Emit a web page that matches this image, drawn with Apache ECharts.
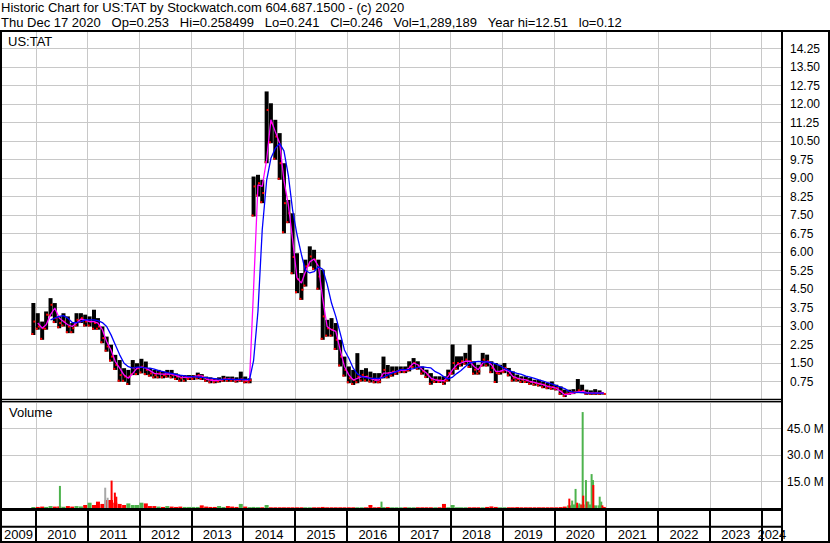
<!DOCTYPE html>
<html><head><meta charset="utf-8">
<script src="https://cdn.jsdelivr.net/npm/echarts@6/dist/echarts.min.js"></script>
<style>html,body{margin:0;padding:0;background:#fff}#c{width:830px;height:543px}</style>
</head><body><div id="c"></div>
<script>
// ---- data (monthly bars) ----
const months = [
'2009-12',
'2010-01','2010-02','2010-03','2010-04','2010-05','2010-06','2010-07','2010-08','2010-09','2010-10','2010-11','2010-12',
'2011-01','2011-02','2011-03','2011-04','2011-05','2011-06','2011-07','2011-08','2011-09','2011-10','2011-11','2011-12',
'2012-01','2012-02','2012-03','2012-04','2012-05','2012-06','2012-07','2012-08','2012-09','2012-10','2012-11','2012-12',
'2013-01','2013-02','2013-03','2013-04','2013-05','2013-06','2013-07','2013-08','2013-09','2013-10','2013-11','2013-12',
'2014-01','2014-02','2014-03','2014-04','2014-05','2014-06','2014-07','2014-08','2014-09','2014-10','2014-11','2014-12',
'2015-01','2015-02','2015-03','2015-04','2015-05','2015-06','2015-07','2015-08','2015-09','2015-10','2015-11','2015-12',
'2016-01','2016-02','2016-03','2016-04','2016-05','2016-06','2016-07','2016-08','2016-09','2016-10','2016-11','2016-12',
'2017-01','2017-02','2017-03','2017-04','2017-05','2017-06','2017-07','2017-08','2017-09','2017-10','2017-11','2017-12',
'2018-01','2018-02','2018-03','2018-04','2018-05','2018-06','2018-07','2018-08','2018-09','2018-10','2018-11','2018-12',
'2019-01','2019-02','2019-03','2019-04','2019-05','2019-06','2019-07','2019-08','2019-09','2019-10','2019-11','2019-12',
'2020-01','2020-02','2020-03','2020-04','2020-05','2020-06','2020-07','2020-08','2020-09','2020-10','2020-11','2020-12'];

const priceHigh = [3.93,
 3.52,3.18,3.59,4.13,3.93,3.39,3.52,3.39,3.12,3.52,3.52,3.46,
 3.39,3.66,3.32,2.98,2.57,2.24,1.83,1.62,1.29,1.22,1.62,1.49,
 1.67,1.56,1.29,1.22,1.22,1.15,1.22,1.22,1.08,1.01,1.01,1.01,
 1.01,1.11,1.05,0.95,0.92,0.88,0.92,0.98,0.95,0.95,0.92,1.15,
 0.95,0.88,9.06,9.13,8.93,12.51,12.03,11.36,10.82,9.60,8.11,7.57,
 5.95,5.15,5.69,6.23,6.09,5.69,5.28,3.25,3.32,3.12,2.44,1.76,
 1.36,1.22,1.90,1.22,1.29,1.15,1.09,1.09,1.76,1.42,1.36,1.36,
 1.36,1.36,1.57,1.70,1.57,1.36,1.23,1.09,0.96,0.96,0.96,1.23,
 2.25,1.77,1.77,1.91,2.25,1.57,1.43,1.91,1.84,1.57,1.50,1.43,
 1.50,1.30,1.16,1.03,0.96,0.96,0.89,0.82,0.82,0.75,0.69,0.75,
 0.62,0.55,0.42,0.42,0.44,0.85,0.62,0.42,0.39,0.44,0.39,0.26];

const priceLow = [2.64,
 2.85,2.44,2.85,3.39,3.12,2.91,2.98,2.71,2.71,2.98,3.12,2.98,
 2.98,2.85,2.85,2.30,1.96,1.56,1.22,0.74,0.74,0.61,1.01,1.01,
 1.08,1.01,0.95,0.88,0.88,0.88,0.91,0.88,0.81,0.74,0.74,0.81,
 0.81,0.84,0.81,0.74,0.68,0.68,0.71,0.74,0.74,0.74,0.71,0.74,
 0.68,0.68,7.44,8.25,7.98,9.60,10.41,9.74,8.93,6.76,7.17,5.10,
 4.33,4.06,4.60,5.42,5.28,4.47,2.44,2.57,2.57,2.03,1.36,0.95,
 0.68,0.61,0.68,0.75,0.75,0.71,0.68,0.68,0.88,0.88,0.95,1.02,
 1.09,1.09,1.16,1.30,1.23,1.03,0.89,0.62,0.69,0.69,0.62,0.75,
 1.03,1.23,1.36,1.43,1.30,1.03,1.03,1.36,1.36,1.09,0.69,1.03,
 1.09,0.96,0.75,0.75,0.69,0.69,0.62,0.58,0.55,0.48,0.44,0.42,
 0.39,0.21,0.12,0.21,0.24,0.28,0.28,0.21,0.21,0.21,0.21,0.24];

const priceClose = [3.18,
 2.98,2.91,3.46,3.86,3.32,3.12,3.18,2.98,2.91,3.25,3.32,3.18,
 3.18,3.12,2.98,2.51,2.17,1.76,1.42,1.01,0.95,0.95,1.29,1.29,
 1.35,1.22,1.08,1.01,1.08,1.01,1.06,1.01,0.95,0.88,0.92,0.92,
 0.95,1.01,0.95,0.84,0.81,0.79,0.81,0.87,0.85,0.84,0.81,0.84,
 0.76,0.80,8.66,8.79,8.39,11.76,11.22,10.68,9.60,7.98,7.57,5.80,
 4.90,4.47,5.42,5.82,5.69,5.01,3.39,2.91,2.85,2.44,1.76,1.22,
 0.88,0.81,0.95,1.02,0.95,0.88,0.81,0.75,1.22,1.09,1.15,1.16,
 1.23,1.20,1.36,1.50,1.36,1.16,1.03,0.82,0.82,0.80,0.75,1.09,
 1.50,1.50,1.57,1.64,1.57,1.23,1.16,1.64,1.57,1.30,1.09,1.16,
 1.30,1.09,0.89,0.85,0.82,0.79,0.73,0.69,0.66,0.62,0.55,0.52,
 0.48,0.35,0.25,0.31,0.32,0.39,0.37,0.28,0.28,0.28,0.28,0.246];

// magenta (short) moving average
const maShort = [null,
 3.12,2.91,3.05,3.46,3.73,3.32,3.18,3.05,2.98,3.12,3.28,3.25,
 3.18,3.18,3.12,2.85,2.37,2.03,1.56,1.29,1.01,0.88,1.08,1.29,
 1.33,1.29,1.19,1.08,1.06,1.05,1.06,1.05,1.00,0.93,0.92,0.93,
 0.95,0.98,0.98,0.85,0.81,0.79,0.81,0.84,0.85,0.84,0.82,0.84,
 0.81,0.82,4.50,8.72,8.66,9.74,11.36,10.88,10.41,8.90,7.90,6.50,
 4.95,4.74,5.20,5.60,5.72,5.42,4.10,2.98,2.85,2.78,2.03,1.36,
 1.02,0.81,0.88,0.95,0.95,0.88,0.81,0.81,1.09,1.09,1.12,1.15,
 1.20,1.20,1.30,1.50,1.43,1.23,1.09,0.89,0.82,0.79,0.78,0.96,
 1.23,1.43,1.50,1.57,1.57,1.36,1.23,1.50,1.57,1.43,1.16,1.16,
 1.23,1.16,0.96,0.89,0.85,0.82,0.75,0.71,0.66,0.62,0.55,0.52,
 0.48,0.35,0.21,0.25,0.28,0.33,0.35,0.31,0.28,0.28,0.28,0.28];

// blue (long) moving average
const maLong = [null,
 null,null,null,3.25,3.32,3.39,3.42,3.32,3.14,3.14,3.18,3.25,
 3.25,3.25,3.22,3.14,2.98,2.64,2.24,1.83,1.49,1.35,1.29,1.33,
 1.33,1.30,1.29,1.25,1.19,1.15,1.11,1.08,1.04,1.01,0.98,0.95,
 0.95,0.93,0.92,0.91,0.89,0.87,0.85,0.84,0.84,0.84,0.84,0.84,
 0.84,0.84,1.60,3.60,6.90,8.90,9.80,10.20,10.40,10.10,9.10,7.70,
 6.70,5.90,5.25,5.15,5.20,5.40,5.30,4.70,3.93,3.39,2.71,2.03,
 1.69,1.29,1.06,0.95,0.91,0.88,0.88,0.88,0.92,1.02,1.09,1.15,
 1.23,1.23,1.24,1.27,1.32,1.34,1.32,1.30,1.15,1.07,0.94,0.86,
 0.93,1.08,1.20,1.36,1.50,1.54,1.57,1.55,1.54,1.52,1.46,1.39,
 1.28,1.20,1.13,1.08,1.04,0.97,0.93,0.88,0.82,0.77,0.70,0.65,
 0.58,0.52,0.46,0.35,0.32,0.31,0.30,0.28,0.28,0.28,0.28,0.28];

// volume, millions (typical daily bar height in each month)
const volumeM = [0.6,
 0.6,0.8,0.6,1.1,0.8,0.9,0.7,1.1,0.8,1.1,0.9,1.7,
 3.0,1.7,3.6,2.3,4.5,4.5,3.0,2.3,1.7,2.6,1.7,1.7,
 3.0,2.6,1.1,1.1,0.8,0.6,1.1,0.8,0.6,0.8,0.6,0.6,
 0.6,0.6,1.5,0.8,0.6,0.6,1.1,0.6,1.1,0.8,0.6,2.3,
 0.8,0.5,0.6,0.5,0.4,1.7,0.4,0.4,0.4,0.4,0.4,0.4,
 0.4,0.4,0.4,0.4,0.4,0.4,0.6,0.4,0.4,0.4,0.4,0.4,
 0.4,0.4,0.4,0.4,0.4,1.7,0.4,0.5,0.5,0.5,0.4,0.4,
 0.4,0.4,0.4,0.4,0.4,0.4,0.4,0.4,0.4,0.4,2.3,0.4,
 1.7,0.4,0.4,0.4,0.4,0.4,0.4,0.4,0.6,0.9,0.6,0.4,
 0.4,0.4,0.4,0.5,0.4,0.4,0.4,0.4,0.4,0.4,0.4,0.4,
 0.4,0.5,0.8,1.5,2.0,1.5,2.0,2.0,2.0,1.5,1.5,0.6];

// individual heavy-volume days
const spikeDates = ['2010-06-20','2011-05-05','2011-05-22','2011-06-06','2011-06-19','2011-07-12','2011-07-22',
 '2016-09-01','2020-04-16','2020-05-06','2020-05-30','2020-06-10','2020-06-25','2020-07-19','2020-07-23',
 '2020-08-11','2020-08-20','2020-08-28','2020-09-20','2020-09-30','2020-10-02','2020-11-16','2020-11-27','2020-12-05'];
const spikeVolM = [12.5,11.5,5.8,4.5,15.5,8.7,6.4, 3.6,5.3,4.2,10.8,3.0,2.6,54.3,7.0, 15.8,3.6,3.6,19.2,15.8,13.0,6.4,3.6,1.5];
const spikeKind = ['up','flat','flat','down','down','down','down', 'up','down','up','up','down','up','up','down',
 'up','down','up','up','up','down','up','up','down'];

const yearLabels = [2009,2010,2011,2012,2013,2014,2015,2016,2017,2018,2019,2020,2021,2022,2023,2024];
const axisStart = '2009-05-01', axisEnd = '2024-05-23';
const priceMax = 14.96, priceStep = 0.75;
const volMax = 60, volStep = 15;

// ---- helpers ----
const FONT = '"Liberation Sans", Arial, sans-serif';
const GREEN = '#4db34d', RED = '#ff0000', GRAY = '#a8a8a8';
const mts = s => { const p = s.split('-').map(Number); return new Date(p[0], p[1]-1, p[2] || 15).getTime(); };
const YEAR = 365*24*3600*1000;
const SP = '\u00a0\u00a0\u00a0';

const ohlcData = months.map((m,i)=>[mts(m), priceLow[i], priceHigh[i], priceClose[i]]);
const maShortData = months.map((m,i)=>[mts(m), maShort[i]]).filter(d=>d[1]!==null);
const maLongData = months.map((m,i)=>[mts(m), maLong[i]]).filter(d=>d[1]!==null);
const volData = months.map((m,i)=>[mts(m), volumeM[i], (i===0 || priceClose[i]>=priceClose[i-1]) ? 0 : 1]);
const kindIdx = {up:0, down:1, flat:2};
const spikeData = spikeDates.map((d,i)=>[mts(d), spikeVolM[i], kindIdx[spikeKind[i]]]);
const volColors = [GREEN, RED, GRAY];

function renderOhlc(params, api){
  const t = api.value(0);
  const pLo = api.coord([t, api.value(1)]);
  const pHi = api.coord([t, api.value(2)]);
  const pCl = api.coord([t, api.value(3)]);
  const x = pHi[0];
  return {type:'group', children:[
    {type:'rect', shape:{x:x-2, y:pHi[1], width:4, height:Math.max(1, pLo[1]-pHi[1])}, style:{fill:'#000'}},
    {type:'rect', shape:{x:x-2, y:pLo[1]-2, width:2, height:2}, style:{fill:RED}},
    {type:'rect', shape:{x:x, y:pCl[1]-1, width:2, height:2}, style:{fill:RED}}
  ]};
}
function makeVolRender(w){
  return function(params, api){
    const t = api.value(0);
    const top = api.coord([t, api.value(1)]);
    const base = api.coord([t, 0]);
    return {type:'rect', shape:{x: top[0]-w/2, y: top[1], width: w, height: Math.max(0.8, base[1]-top[1])},
            style:{fill: volColors[api.value(2)]}};
  };
}
function renderYear(params, api){
  const yr = api.value(1);
  const cs = params.coordSys;
  let x0 = api.coord([api.value(0), 0])[0];
  let x1 = api.coord([new Date(yr+1,0,1).getTime(), 0])[0];
  x0 = Math.max(x0, cs.x); x1 = Math.min(x1, cs.x + cs.width);
  return {type:'text', x:(x0+x1)/2, y: cs.y + cs.height*0.76,
    style:{text:String(yr), align:'center', verticalAlign:'middle', fontSize:13, fontFamily:FONT, fill:'#000'}};
}

const gridLine = {show:true, lineStyle:{color:'#c8c8c8', width:1}};
function timeAxis(gi, split){
  return {type:'time', gridIndex:gi, min:axisStart, max:axisEnd, splitNumber:15, minInterval:YEAR, maxInterval:366*24*3600*1000,
    axisLabel:{show:false}, axisTick:{show:false}, axisLine:{show:false}, splitLine:split};
}
const txt = {fontSize:13, fontWeight:'normal', color:'#000', fontFamily:FONT};

const option = {
  animation:false,
  backgroundColor:'#fff',
  title:[
    {text:'Historic Chart for US:TAT by Stockwatch.com 604.687.1500 - (c) 2020', left:1, top:1, padding:0, textStyle:txt},
    {text:'Thu Dec 17 2020'+SP+'Op=0.253'+SP+'Hi=0.258499'+SP+'Lo=0.241'+SP+'Cl=0.246'+SP+'Vol=1,289,189'+SP+'Year hi=12.51'+SP+'lo=0.12',
     left:1, top:16, padding:0, textStyle:txt},
    {text:'US:TAT', left:8, top:35, padding:0, textStyle:txt},
    {text:'Volume', left:9, top:406, padding:0, textStyle:txt}
  ],
  grid:[
    {left:1, top:31, width:781, height:369, show:false},
    {left:1, top:402, width:781, height:106, show:false},
    {left:1, top:509.5, width:781, height:32.5, show:false}
  ],
  xAxis:[
    timeAxis(0, gridLine),
    timeAxis(1, gridLine),
    timeAxis(2, {show:true, lineStyle:{color:'#000', width:2}})
  ],
  yAxis:[
    {type:'value', gridIndex:0, position:'right', min:0, max:priceMax, interval:priceStep,
     axisLine:{show:false}, axisTick:{show:false}, splitLine:gridLine,
     axisLabel:{color:'#000', fontSize:12, fontFamily:FONT, margin:8,
       formatter:v => (v>0 && v<14.5) ? v.toFixed(2) : ''}},
    {type:'value', gridIndex:1, position:'right', min:0, max:volMax, interval:volStep,
     axisLine:{show:false}, axisTick:{show:false}, splitLine:gridLine,
     axisLabel:{color:'#000', fontSize:12, fontFamily:FONT, margin:5,
       formatter:v => (v>0 && v<volMax) ? v.toFixed(1)+' M' : ''}},
    {type:'value', gridIndex:2, min:0, max:1, show:false, splitLine:{show:false}}
  ],
  series:[
    {type:'custom', name:'price', xAxisIndex:0, yAxisIndex:0, renderItem:renderOhlc, data:ohlcData,
     encode:{x:0, y:[1,2]}, clip:true, z:2},
    {type:'line', name:'maShort', xAxisIndex:0, yAxisIndex:0, data:maShortData, showSymbol:false, symbol:'none',
     lineStyle:{color:'#ff00ff', width:1.3}, z:3},
    {type:'line', name:'maLong', xAxisIndex:0, yAxisIndex:0, data:maLongData, showSymbol:false, symbol:'none',
     lineStyle:{color:'#0000ff', width:1.3}, z:4},
    {type:'custom', name:'volume', xAxisIndex:1, yAxisIndex:1, renderItem:makeVolRender(4), data:volData,
     encode:{x:0, y:1}, clip:true, z:2},
    {type:'custom', name:'volumeDays', xAxisIndex:1, yAxisIndex:1, renderItem:makeVolRender(2), data:spikeData,
     encode:{x:0, y:1}, clip:true, z:3},
    {type:'custom', name:'years', xAxisIndex:2, yAxisIndex:2, renderItem:renderYear,
     data:yearLabels.map(y=>[new Date(y,0,1).getTime(), y]), encode:{x:0}, clip:false, z:5}
  ],
  graphic:[
    {type:'rect', z:100, silent:true, shape:{x:1, y:31, width:828, height:511}, style:{fill:null, stroke:'#000', lineWidth:2}},
    {type:'line', z:100, silent:true, shape:{x1:782, y1:31, x2:782, y2:542}, style:{stroke:'#000', lineWidth:2}},
    {type:'line', z:100, silent:true, shape:{x1:1, y1:399.3, x2:782, y2:399.3}, style:{stroke:'#000', lineWidth:1.3}},
    {type:'line', z:100, silent:true, shape:{x1:1, y1:401.6, x2:782, y2:401.6}, style:{stroke:'#000', lineWidth:1.3}},
    {type:'line', z:100, silent:true, shape:{x1:1, y1:509.5, x2:782, y2:509.5}, style:{stroke:'#000', lineWidth:3}},
    {type:'line', z:100, silent:true, shape:{x1:1, y1:526.7, x2:782, y2:526.7}, style:{stroke:'#000', lineWidth:2}}
  ]
};
const chart = echarts.init(document.getElementById('c'), null, {renderer:'svg'});
chart.setOption(option);
</script>
</body></html>
